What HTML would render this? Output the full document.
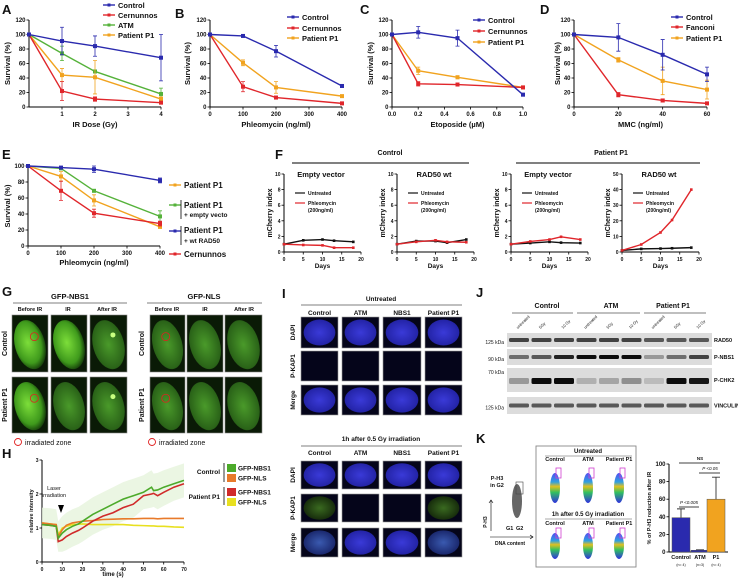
<!DOCTYPE html>
<html><head><meta charset="utf-8">
<style>
html,body{margin:0;padding:0;background:#fff;}
svg{display:block;font-family:"Liberation Sans",Arial,sans-serif;}
text{fill:#111;}
</style></head>
<body>
<svg id="fig" width="738" height="582" viewBox="0 0 738 582" xmlns="http://www.w3.org/2000/svg">
<defs>
<radialGradient id="gBright" cx="45%" cy="45%" r="60%"><stop offset="0" stop-color="#7dde3a"/><stop offset="0.7" stop-color="#3f9a1c"/><stop offset="1" stop-color="#0c2a06"/></radialGradient>
<radialGradient id="gDim" cx="50%" cy="50%" r="60%"><stop offset="0" stop-color="#4a9a2a"/><stop offset="0.8" stop-color="#2a6318"/><stop offset="1" stop-color="#0c2206"/></radialGradient>
<radialGradient id="gBlue" cx="50%" cy="50%" r="60%"><stop offset="0" stop-color="#3a3ad8"/><stop offset="0.8" stop-color="#2424a8"/><stop offset="1" stop-color="#0a0a30"/></radialGradient>
<radialGradient id="gSpeck" cx="50%" cy="50%" r="60%"><stop offset="0" stop-color="#3a6a20"/><stop offset="1" stop-color="#102008"/></radialGradient>
<radialGradient id="gMerge" cx="50%" cy="50%" r="60%"><stop offset="0" stop-color="#3a5ab0"/><stop offset="1" stop-color="#141e60"/></radialGradient>
<linearGradient id="gFlow" x1="0" y1="1" x2="0" y2="0"><stop offset="0" stop-color="#3030e0"/><stop offset="0.35" stop-color="#30c060"/><stop offset="0.55" stop-color="#e0c020"/><stop offset="0.7" stop-color="#30a0e0"/><stop offset="1" stop-color="#5050f0"/></linearGradient>
</defs>
</svg>
<script>
// ---------- DATA ----------
const aDose=[0,1,2,4];
const aControl=[100,91,84,68]; const aControlErr=[0,19,14,32];
const aCern=[100,22,11,6]; const aCernErr=[0,13,3,1];
const aATM=[100,74,49,18]; const aATMErr=[0,10,0,8];
const aP1=[100,44,41,11]; const aP1Err=[0,9,23,3];

const bDose=[0,100,200,400];
const bControl=[100,98,77,29]; const bControlErr=[0,1,8,2];
const bCern=[100,28,13,5]; const bCernErr=[0,7,2,1];
const bP1=[100,61,27,15]; const bP1Err=[0,4,8,1];

const cDose=[0,0.2,0.5,1.0];
const cControl=[100,103,95,17]; const cControlErr=[0,8,11,2];
const cCern=[100,32,31,27]; const cCernErr=[0,3,1,1];
const cP1=[100,50,41,27]; const cP1Err=[0,5,2,2];

const dDose=[0,20,40,60];
const dControl=[100,96,72,45]; const dControlErr=[0,19,21,10];
const dFanc=[100,17,9,5]; const dFancErr=[0,3,2,1];
const dP1=[100,65,36,24]; const dP1Err=[0,3,19,13];

const eDose=[0,100,200,400];
const eP1=[100,87,57,24]; const eP1Err=[0,6,7,2];
const eEmpty=[100,97,69,37]; const eEmptyErr=[0,1,1,7];
const eRad50=[100,98,96,82]; const eRad50Err=[0,1,4,3];
const eCern=[100,69,41,28]; const eCernErr=[0,12,5,3];

const fDays=[0,5,10,13,18];
const f1Untr=[1,1.5,1.6,1.45,1.3]; const f1Phleo=[1,0.9,0.85,0.55,0.55];
const f2Untr=[1,1.4,1.4,1.2,1.6]; const f2Phleo=[1,1.3,1.5,1.3,1.25];
const f3Untr=[1,1.15,1.3,1.2,1.15]; const f3Phleo=[1,1.35,1.6,1.95,1.6];
const f4Untr=[1,2,2.2,2.4,2.8]; const f4Phleo=[1,4.8,12.5,20.5,40];

const hTime=[0,4,7,8,10,12,15,18,20,25,30,35,40,45,50,54,55,57,60,65,70];
const hCtrlNBS1=[1.1,1.08,1.05,0.7,0.85,0.95,1.05,1.12,1.2,1.4,1.55,1.7,1.85,1.95,2.05,2.2,2.1,2.12,2.2,2.3,2.4];
const hCtrlNLS=[1.15,1.12,1.1,0.75,0.95,1.08,1.15,1.18,1.2,1.22,1.25,1.26,1.27,1.27,1.28,1.28,1.28,1.27,1.28,1.28,1.28];
const hP1NBS1=[1.1,1.08,1.05,0.6,0.65,0.75,0.85,0.93,1.0,1.2,1.35,1.45,1.6,1.7,1.95,2.0,2.02,1.95,2.05,2.2,2.3];
const hP1NLS=[1.15,1.12,1.1,0.8,1.0,1.05,1.1,1.11,1.12,1.1,1.1,1.1,1.1,1.08,1.07,1.06,1.06,1.05,1.05,1.03,1.02];

const kCats=['Control','ATM','P1'];
const kN=['(n= 4)','(n=3)','(n= 4)'];
const kVals=[39,2,60];
const kErr=[10,0.5,25];

const yTicks120=[0,20,40,60,80,100,120];

// ---------- HELPERS ----------
const NS='http://www.w3.org/2000/svg';
const svg=document.getElementById('fig');
const BLUE='#2a2aae',RED='#e0262b',GREEN='#55b23a',ORANGE='#f1a31f',BLACK='#111';
function mk(tag,attrs,parent){const e=document.createElementNS(NS,tag);for(const k in attrs)e.setAttribute(k,attrs[k]);(parent||svg).appendChild(e);return e;}
function txt(x,y,s,size,opts,parent){const t=mk('text',Object.assign({x:x,y:y,'font-size':size},opts||{}),parent);t.textContent=s;return t;}
function group(name){const g=mk('g',{});


return g;}
function scale(d0,d1,p0,p1){return v=>p0+(v-d0)/(d1-d0)*(p1-p0);}

function axes(g,cfg){
  const sx=scale(cfg.xmin,cfg.xmax,cfg.x0,cfg.x1), sy=scale(cfg.ymin,cfg.ymax,cfg.y0,cfg.y1);
  const xa=mk('line',{x1:cfg.x0,y1:cfg.y0,x2:cfg.x1,y2:cfg.y0,stroke:'#000','stroke-width':1},g);
  
  
  const ya=mk('line',{x1:cfg.x0,y1:cfg.y0,x2:cfg.x0,y2:cfg.y1,stroke:'#000','stroke-width':1},g);
  
  
  cfg.xticks.forEach((v,i)=>{mk('line',{x1:sx(v),y1:cfg.y0,x2:sx(v),y2:cfg.y0+2.5,stroke:'#000','stroke-width':0.8},g);
    if(cfg.xlabels[i]!==''){const t=txt(sx(v),cfg.y0+9,cfg.xlabels[i],cfg.tfs||6,{'text-anchor':'middle','font-weight':'bold'},g);
    
    }});
  cfg.yticks.forEach(v=>{mk('line',{x1:cfg.x0-2.5,y1:sy(v),x2:cfg.x0,y2:sy(v),stroke:'#000','stroke-width':0.8},g);
    const t=txt(cfg.x0-3.5,sy(v)+2,String(v),cfg.tfs||6,{'text-anchor':'end','font-weight':'bold'},g);
    
    });
  if(cfg.xtitle){const t=txt((cfg.x0+cfg.x1)/2,cfg.y0+cfg.xtOff,cfg.xtitle,cfg.xfs||7.5,{'text-anchor':'middle','font-weight':'bold'},g);
    
    }
  if(cfg.ytitle){const cy=(cfg.y0+cfg.y1)/2;const t=txt(cfg.ytx,cy,cfg.ytitle,cfg.yfs||7.5,{'text-anchor':'middle','font-weight':'bold',transform:'rotate(-90 '+cfg.ytx+' '+cy+')'},g);
    
    }
  return [sx,sy];
}
function series(g,sx,sy,xs,ys,errs,color,name,ms){
  ms=ms||2;
  const pts=xs.map((x,i)=>sx(x)+','+sy(ys[i])).join(' ');
  const pl=mk('polyline',{points:pts,fill:'none',stroke:color,'stroke-width':1.4},g);
  
  
  xs.forEach((x,i)=>{
    if(errs&&errs[i]>0){const X=sx(x);const eb=mk('path',{d:'M'+X+' '+sy(ys[i]-errs[i])+'V'+sy(ys[i]+errs[i])+'M'+(X-2)+' '+sy(ys[i]-errs[i])+'h4M'+(X-2)+' '+sy(ys[i]+errs[i])+'h4',stroke:color,'stroke-width':0.8,fill:'none'},g);
      
      }
    const p=mk('rect',{x:sx(x)-ms,y:sy(ys[i])-ms,width:2*ms,height:2*ms,fill:color},g);
    
    
  });
}
function legend(g,x,y,label,color,fs){
  const l=mk('line',{x1:x,y1:y,x2:x+12,y2:y,stroke:color,'stroke-width':1.4},g);
  
  
  mk('rect',{x:x+4.5,y:y-1.5,width:3,height:3,fill:color},g);
  const t=txt(x+15,y+3,label,fs||7.5,{'font-weight':'bold'},g);
  
  
}
function letter(x,y,s){const t=txt(x,y,s,13,{'font-weight':'bold'});
  
  }

// ---------- PANEL A ----------
letter(2,14,'A');
{const g=group('panel-a-ir-survival-chart');
 const [sx,sy]=axes(g,{x0:29,x1:161,y0:107,y1:20,xmin:0,xmax:4,ymin:0,ymax:120,xticks:[1,2,3,4],xlabels:['1','2','3','4'],yticks:yTicks120,xtitle:'IR Dose (Gy)',xtOff:20,ytitle:'Survival (%)',ytx:10});
 series(g,sx,sy,aDose,aATM,aATMErr,GREEN,'atm');
 series(g,sx,sy,aDose,aP1,aP1Err,ORANGE,'patient-p1');
 series(g,sx,sy,aDose,aCern,aCernErr,RED,'cernunnos');
 series(g,sx,sy,aDose,aControl,aControlErr,BLUE,'control');
 legend(g,103,5,'Control',BLUE);legend(g,103,15,'Cernunnos',RED);legend(g,103,25,'ATM',GREEN);legend(g,103,35,'Patient P1',ORANGE);}
// ---------- PANEL B ----------
letter(175,18,'B');
{const g=group('panel-b-phleomycin-survival-chart');
 const [sx,sy]=axes(g,{x0:210,x1:342,y0:107,y1:20,xmin:0,xmax:400,ymin:0,ymax:120,xticks:[0,100,200,300,400],xlabels:['0','100','200','300','400'],yticks:yTicks120,xtitle:'Phleomycin (ng/ml)',xtOff:20,ytitle:'Survival (%)',ytx:190});
 series(g,sx,sy,bDose,bP1,bP1Err,ORANGE,'patient-p1');
 series(g,sx,sy,bDose,bCern,bCernErr,RED,'cernunnos');
 series(g,sx,sy,bDose,bControl,bControlErr,BLUE,'control');
 legend(g,287,17,'Control',BLUE);legend(g,287,28,'Cernunnos',RED);legend(g,287,38,'Patient P1',ORANGE);}
// ---------- PANEL C ----------
letter(360,14,'C');
{const g=group('panel-c-etoposide-survival-chart');
 const [sx,sy]=axes(g,{x0:392,x1:523,y0:107,y1:20,xmin:0,xmax:1,ymin:0,ymax:120,xticks:[0,0.2,0.4,0.6,0.8,1.0],xlabels:['0.0','0.2','0.4','0.6','0.8','1.0'],yticks:yTicks120,xtitle:'Etoposide (\u00b5M)',xtOff:20,ytitle:'Survival (%)',ytx:373});
 series(g,sx,sy,cDose,cP1,cP1Err,ORANGE,'patient-p1');
 series(g,sx,sy,cDose,cCern,cCernErr,RED,'cernunnos');
 series(g,sx,sy,cDose,cControl,cControlErr,BLUE,'control');
 legend(g,473,20,'Control',BLUE);legend(g,473,31,'Cernunnos',RED);legend(g,473,42,'Patient P1',ORANGE);}
// ---------- PANEL D ----------
letter(540,14,'D');
{const g=group('panel-d-mmc-survival-chart');
 const [sx,sy]=axes(g,{x0:574,x1:707,y0:107,y1:20,xmin:0,xmax:60,ymin:0,ymax:120,xticks:[0,20,40,60],xlabels:['0','20','40','60'],yticks:yTicks120,xtitle:'MMC (ng/ml)',xtOff:20,ytitle:'Survival (%)',ytx:560});
 series(g,sx,sy,dDose,dP1,dP1Err,ORANGE,'patient-p1');
 series(g,sx,sy,dDose,dFanc,dFancErr,RED,'fanconi');
 series(g,sx,sy,dDose,dControl,dControlErr,BLUE,'control');
 legend(g,671,17,'Control',BLUE);legend(g,671,27,'Fanconi',RED);legend(g,671,38,'Patient P1',ORANGE);}
// ---------- PANEL E ----------
letter(2,159,'E');
{const g=group('panel-e-rescue-survival-chart');
 const [sx,sy]=axes(g,{x0:28,x1:160,y0:246,y1:166,xmin:0,xmax:400,ymin:0,ymax:100,xticks:[0,100,200,300,400],xlabels:['0','100','200','300','400'],yticks:[0,20,40,60,80,100],xtitle:'Phleomycin (ng/ml)',xtOff:19,ytitle:'Survival (%)',ytx:10});
 series(g,sx,sy,eDose,eEmpty,eEmptyErr,GREEN,'patient-p1-empty-vector');
 series(g,sx,sy,eDose,eP1,eP1Err,ORANGE,'patient-p1');
 series(g,sx,sy,eDose,eCern,eCernErr,RED,'cernunnos');
 series(g,sx,sy,eDose,eRad50,eRad50Err,BLUE,'patient-p1-wt-rad50');
 legend(g,169,185,'Patient P1',ORANGE,8);
 legend(g,169,205,'',GREEN);txt(184,208,'Patient P1',8,{'font-weight':'bold'},g);txt(184,217,'+ empty vecto',6.5,{'font-weight':'bold'},g);
 mk('line',{x1:181,y1:200,x2:181,y2:219,stroke:'#000','stroke-width':0.8},g);
 legend(g,169,231,'',BLUE);txt(184,233,'Patient P1',8,{'font-weight':'bold'},g);txt(184,243,'+ wt RAD50',6.5,{'font-weight':'bold'},g);
 mk('line',{x1:181,y1:226,x2:181,y2:245,stroke:'#000','stroke-width':0.8},g);
 legend(g,169,254,'Cernunnos',RED,8);}
// ---------- PANEL F ----------
letter(275,159,'F');
{const g=group('panel-f-header');
 txt(390,155,'Control',7,{'text-anchor':'middle','font-weight':'bold'},g);
 mk('line',{x1:292,y1:163,x2:469,y2:163,stroke:'#000','stroke-width':1},g);
 txt(611,155,'Patient P1',7,{'text-anchor':'middle','font-weight':'bold'},g);
 mk('line',{x1:516,y1:163,x2:700,y2:163,stroke:'#000','stroke-width':1},g);}
function fPanel(name,x0,title,ymax,yt,untr,phleo){
  const g=group(name);
  const [sx,sy]=axes(g,{x0:x0,x1:x0+77,y0:252,y1:174,xmin:0,xmax:20,ymin:0,ymax:ymax,xticks:[0,5,10,15,20],xlabels:['0','5','10','15','20'],yticks:yt,tfs:5,xtitle:'Days',xtOff:16,xfs:6.5,ytitle:'mCherry index',ytx:x0-12,yfs:7});
  txt(x0+37,177,title,7.5,{'text-anchor':'middle','font-weight':'bold'},g);
  series(g,sx,sy,fDays,untr,null,BLACK,'untreated',1.3);
  series(g,sx,sy,fDays,phleo,null,RED,'phleomycin',1.3);
  const l1=mk('line',{x1:x0+11,y1:193,x2:x0+21,y2:193,stroke:BLACK,'stroke-width':1.2},g);
  
  
  txt(x0+24,195,'Untreated',5,{'font-weight':'bold'},g);
  const l2=mk('line',{x1:x0+11,y1:203,x2:x0+21,y2:203,stroke:RED,'stroke-width':1.2},g);
  
  
  txt(x0+24,205,'Phleomycin',5,{'font-weight':'bold'},g);
  txt(x0+24,212,'(200ng/ml)',5,{'font-weight':'bold'},g);
}
fPanel('panel-f-control-empty-vector',284,'Empty vector',10,[0,2,4,6,8,10],f1Untr,f1Phleo);
fPanel('panel-f-control-rad50-wt',397,'RAD50 wt',10,[0,2,4,6,8,10],f2Untr,f2Phleo);
fPanel('panel-f-p1-empty-vector',511,'Empty vector',10,[0,2,4,6,8,10],f3Untr,f3Phleo);
fPanel('panel-f-p1-rad50-wt',622,'RAD50 wt',50,[0,10,20,30,40,50],f4Untr,f4Phleo);

// ---------- PANEL G ----------
letter(2,296,'G');
function cell(g,x,y,w,h,fill,name,extra){
  const r=mk('rect',{x:x,y:y,width:w,height:h,fill:'#0a1a06',stroke:'#888','stroke-width':0.6},g);
  
  
  mk('ellipse',{cx:x+w*0.5,cy:y+h*0.52,rx:w*0.42,ry:h*0.44,fill:fill,transform:'rotate(-15 '+(x+w*0.5)+' '+(y+h*0.52)+')'},g);
  if(extra)extra(x,y,w,h);
}
{const g=group('panel-g-gfp-imaging');
 const sets=[{t:'GFP-NBS1',cx:70,ul:[13,127],cols:[[12,36],[51,36],[90,37]],lab:[30,68,107],fills:[['url(#gBright)','url(#gBright)','url(#gDim)'],['url(#gBright)','url(#gDim)','url(#gDim)']]},
             {t:'GFP-NLS',cx:204,ul:[147,262],cols:[[150,35],[187,36],[225,37]],lab:[167,205,244],fills:[['url(#gDim)','url(#gDim)','url(#gDim)'],['url(#gDim)','url(#gDim)','url(#gDim)']]}];
 const rows=[[315,57],[377,56]];const rowNames=['Control','Patient P1'];
 sets.forEach((s,si)=>{
   txt(s.cx,299,s.t,7.5,{'text-anchor':'middle','font-weight':'bold'},g);
   mk('line',{x1:s.ul[0],y1:303,x2:s.ul[1],y2:303,stroke:'#555','stroke-width':0.8},g);
   ['Before IR','IR','After IR'].forEach((c,i)=>txt(s.lab[i],311,c,5.5,{'text-anchor':'middle','font-weight':'bold'},g));
   rows.forEach((r,ri)=>{
     const lx=si===0?7:144;const cy=r[0]+r[1]/2;
     txt(lx,cy,rowNames[ri],7,{'text-anchor':'middle','font-weight':'bold',transform:'rotate(-90 '+lx+' '+cy+')'},g);
     s.cols.forEach((c,ci)=>{
       cell(g,c[0],r[0],c[1],r[1],s.fills[ri][ci],'gfp-image',(x,y,w,h)=>{
         if(ci===0)mk('circle',{cx:x+w*(si===0?0.62:0.45),cy:y+h*0.38,r:4,fill:'none',stroke:'#e02020','stroke-width':0.8},g);
         if(ci===2&&si===0)mk('circle',{cx:x+w*0.62,cy:y+h*0.35,r:2.5,fill:'#c8ff80'},g);
       });
     });
   });
 });
 mk('circle',{cx:18,cy:442,r:3.5,fill:'none',stroke:'#e02020','stroke-width':0.9},g);
 txt(25,445,'irradiated zone',7,{},g);
 mk('circle',{cx:152,cy:442,r:3.5,fill:'none',stroke:'#e02020','stroke-width':0.9},g);
 txt(159,445,'irradiated zone',7,{},g);}

// ---------- PANEL H ----------
letter(2,458,'H');
{const g=group('panel-h-recruitment-kinetics-chart');
 const [sx,sy]=axes(g,{x0:42,x1:184,y0:562,y1:460,xmin:0,xmax:70,ymin:0,ymax:3,xticks:[0,10,20,30,40,50,60,70],xlabels:['0','10','20','30','40','50','60','70'],yticks:[0,1,2,3],tfs:5,xtitle:'time (s)',xtOff:14,xfs:6,ytitle:'relative intensity',ytx:33,yfs:5.5});
 const band=hTime.map((t,i)=>sx(t)+','+sy(hCtrlNBS1[i]+0.5)).concat(hTime.slice().reverse().map((t,i)=>{const j=hTime.length-1-i;return sx(t)+','+sy(Math.max(0.3,hP1NBS1[j]-0.4));})).join(' ');
 const b=mk('polygon',{points:band,fill:'#e6f4dc',opacity:0.8},g);
 
 
 [[hP1NLS,'#e8e020','p1-gfp-nls'],[hCtrlNLS,'#e87a2a','control-gfp-nls'],[hP1NBS1,'#d02a2a','p1-gfp-nbs1'],[hCtrlNBS1,'#4caa2a','control-gfp-nbs1']].forEach(s=>{
   const pts=hTime.map((t,i)=>sx(t)+','+sy(s[0][i])).join(' ');
   const pl=mk('polyline',{points:pts,fill:'none',stroke:s[1],'stroke-width':1.6},g);
   
   
 });
 txt(54,490,'Laser',5.5,{'text-anchor':'middle'},g);txt(54,497,'irradiation',5.5,{'text-anchor':'middle'},g);
 mk('path',{d:'M58 505h6l-3 8z',fill:'#000'},g);
 txt(220,474,'Control',6.5,{'text-anchor':'end','font-weight':'bold'},g);
 mk('line',{x1:224,y1:463,x2:224,y2:482,stroke:'#000','stroke-width':0.8},g);
 txt(220,499,'Patient P1',6.5,{'text-anchor':'end','font-weight':'bold'},g);
 mk('line',{x1:224,y1:487,x2:224,y2:505,stroke:'#000','stroke-width':0.8},g);
 [[468,'#4caa2a','GFP-NBS1'],[478,'#e87a2a','GFP-NLS'],[492,'#d02a2a','GFP-NBS1'],[502,'#e8e020','GFP-NLS']].forEach(l=>{
   const r=mk('rect',{x:227,y:l[0]-4,width:9,height:8,fill:l[1]},g);
   
   
   txt(238,l[0]+2.5,l[2],6.5,{'font-weight':'bold'},g);
 });}

// ---------- PANEL I ----------
letter(282,298,'I');
{const g=group('panel-i-immunofluorescence');
 const cols=[[301,37],[342,37],[383,38],[425,37]];const colNames=['Control','ATM','NBS1','Patient P1'];
 function block(title,ty,uly,ly,rows,fills){
   txt(381,ty,title,6.5,{'text-anchor':'middle','font-weight':'bold'},g);
   mk('line',{x1:301,y1:uly,x2:462,y2:uly,stroke:'#555','stroke-width':0.8},g);
   colNames.forEach((c,i)=>txt(cols[i][0]+cols[i][1]/2,ly,c,6.5,{'text-anchor':'middle','font-weight':'bold'},g));
   ['DAPI','P-KAP1','Merge'].forEach((rn,ri)=>{
     const cy=rows[ri][0]+rows[ri][1]/2;
     txt(295,cy,rn,6.5,{'text-anchor':'middle','font-weight':'bold',transform:'rotate(-90 295 '+cy+')'},g);
     cols.forEach((c,ci)=>{
       const r=mk('rect',{x:c[0],y:rows[ri][0],width:c[1],height:rows[ri][1],fill:'#05051a',stroke:'#999','stroke-width':0.6},g);
       
       
       const f=fills[ri][ci];
       if(f)mk('ellipse',{cx:c[0]+c[1]/2,cy:cy,rx:c[1]*0.43,ry:rows[ri][1]*0.42,fill:f},g);
     });
   });
 }
 block('Untreated',301,305,315,[[317,31],[351,30],[385,30]],[['url(#gBlue)','url(#gBlue)','url(#gBlue)','url(#gBlue)'],[null,null,null,null],['url(#gBlue)','url(#gBlue)','url(#gBlue)','url(#gBlue)']]);
 block('1h after 0.5 Gy irradiation',441,446,455,[[461,28],[494,28],[528,29]],[['url(#gBlue)','url(#gBlue)','url(#gBlue)','url(#gBlue)'],['url(#gSpeck)',null,null,'url(#gSpeck)'],['url(#gMerge)','url(#gBlue)','url(#gBlue)','url(#gMerge)']]);}

// ---------- PANEL J ----------
letter(476,297,'J');
{const g=group('panel-j-western-blot');
 [['Control',547,512,573],['ATM',611,577,640],['Patient P1',673,644,706]].forEach(h=>{
   txt(h[1],308,h[0],7,{'text-anchor':'middle','font-weight':'bold'},g);
   mk('line',{x1:h[2],y1:313,x2:h[3],y2:313,stroke:'#555','stroke-width':0.8},g);});
 const laneLab=['untreated','5Gy','10 Gy'];
 for(let i=0;i<9;i++){const x=518+i*22.5;txt(x,329,laneLab[i%3],4,{transform:'rotate(-45 '+x+' 329)'},g);}
 const strips=[['RAD50','125 kDa',333,14,[0.7,0.7,0.7,0.7,0.7,0.7,0.6,0.6,0.6]],['P-NBS1','90 kDa',349,16,[0.5,0.6,0.85,0.95,0.95,0.95,0.3,0.5,0.7]],['P-CHK2','70 kDa',368,24,[0.3,0.95,0.95,0.2,0.25,0.35,0.15,0.95,0.9]],['VINCULIN','125 kDa',397,17,[0.6,0.6,0.6,0.6,0.6,0.6,0.6,0.6,0.6]]];
 strips.forEach(s=>{
   const r=mk('rect',{x:507,y:s[2],width:205,height:s[3],fill:'#dcdcdc'},g);
   
   
   s[4].forEach((v,i)=>mk('rect',{x:509+i*22.5,y:s[2]+s[3]/2-2,width:20,height:s[0]==='P-CHK2'?6:4,fill:'#000',opacity:v,rx:1.5},g));
   txt(714,s[2]+s[3]/2+2,s[0],5.5,{'font-weight':'bold'},g);
   txt(504,s[2]+s[3]/2+(s[0]==='P-CHK2'?-6:4),s[1],5,{'text-anchor':'end'},g);
 });}

// ---------- PANEL K ----------
letter(476,443,'K');
{const g=group('panel-k-flow-cytometry');
 txt(497,480,'P-H3',5.5,{'text-anchor':'middle','font-weight':'bold'},g);txt(497,487,'in G2',5.5,{'text-anchor':'middle','font-weight':'bold'},g);
 mk('ellipse',{cx:517,cy:501,rx:5,ry:17,fill:'#666'},g);
 mk('rect',{x:516,y:482,width:7,height:12,fill:'none',stroke:'#444','stroke-width':0.6},g);
 txt(506,530,'G1',5.5,{'font-weight':'bold'},g);txt(516,530,'G2',5.5,{'font-weight':'bold'},g);
 mk('path',{d:'M491 531V500M489 503l2-3 2 3M490 537h43M530 535l3 2-3 2',stroke:'#000','stroke-width':0.6,fill:'none'},g);
 txt(487,522,'P-H3',5,{'text-anchor':'middle','font-weight':'bold',transform:'rotate(-90 487 522)'},g);
 txt(510,545,'DNA content',5,{'text-anchor':'middle','font-weight':'bold'},g);
 const box=mk('rect',{x:536,y:446,width:100,height:121,fill:'#fff',stroke:'#888','stroke-width':0.9},g);
 
 
 txt(588,453,'Untreated',6,{'text-anchor':'middle','font-weight':'bold'},g);
 mk('line',{x1:545,y1:456,x2:632,y2:456,stroke:'#555','stroke-width':0.6},g);
 txt(588,516,'1h after 0.5 Gy irradiation',6,{'text-anchor':'middle','font-weight':'bold'},g);
 mk('line',{x1:545,y1:519,x2:632,y2:519,stroke:'#555','stroke-width':0.6},g);
 [[555,'Control'],[588,'ATM'],[619,'Patient P1']].forEach(c=>{
   [[461,468,502],[525,528,558]].forEach(r=>{
     txt(c[0],r[0],c[1],5.5,{'text-anchor':'middle','font-weight':'bold'},g);
     const e=mk('ellipse',{cx:c[0],cy:(r[1]+r[2])/2+3,rx:5,ry:(r[2]-r[1])/2-2,fill:'url(#gFlow)'},g);
     
     
     mk('rect',{x:c[0]+1,y:r[1],width:5,height:10,fill:'none',stroke:'#d040d0','stroke-width':0.8},g);
   });
 });
 const sy=scale(0,100,552,464);const bx=[681,700,716];
 axes(g,{x0:669,x1:728,y0:552,y1:464,xmin:0,xmax:1,ymin:0,ymax:100,xticks:[],xlabels:[],yticks:[0,20,40,60,80,100],tfs:6,ytitle:'% of P-H3 reduction after IR',ytx:651,yfs:5.5});
 const cols=[BLUE,'#2a2aae',ORANGE];
 kVals.forEach((v,i)=>{
   const r=mk('rect',{x:bx[i]-9,y:sy(v),width:18,height:552-sy(v),fill:cols[i],stroke:'#555','stroke-width':0.5},g);
   
   
   mk('path',{d:'M'+bx[i]+' '+sy(v)+'V'+sy(v+kErr[i])+'M'+(bx[i]-4)+' '+sy(v+kErr[i])+'h8',stroke:'#333','stroke-width':0.9,fill:'none'},g);
   txt(bx[i],559,kCats[i],5.5,{'text-anchor':'middle','font-weight':'bold'},g);
   txt(bx[i],566,kN[i],3.5,{'text-anchor':'middle'},g);
 });
 mk('line',{x1:679,y1:463,x2:720,y2:463,stroke:'#000','stroke-width':0.7},g);txt(700,460,'NS',4.5,{'text-anchor':'middle','font-weight':'bold'},g);
 mk('line',{x1:699,y1:473,x2:720,y2:473,stroke:'#000','stroke-width':0.7},g);txt(710,470,'P <0.05',4.5,{'text-anchor':'middle','font-style':'italic'},g);
 mk('line',{x1:679,y1:507,x2:699,y2:507,stroke:'#000','stroke-width':0.7},g);txt(689,504,'P <0.005',4.5,{'text-anchor':'middle','font-style':'italic'},g);}
</script>
</body></html>
